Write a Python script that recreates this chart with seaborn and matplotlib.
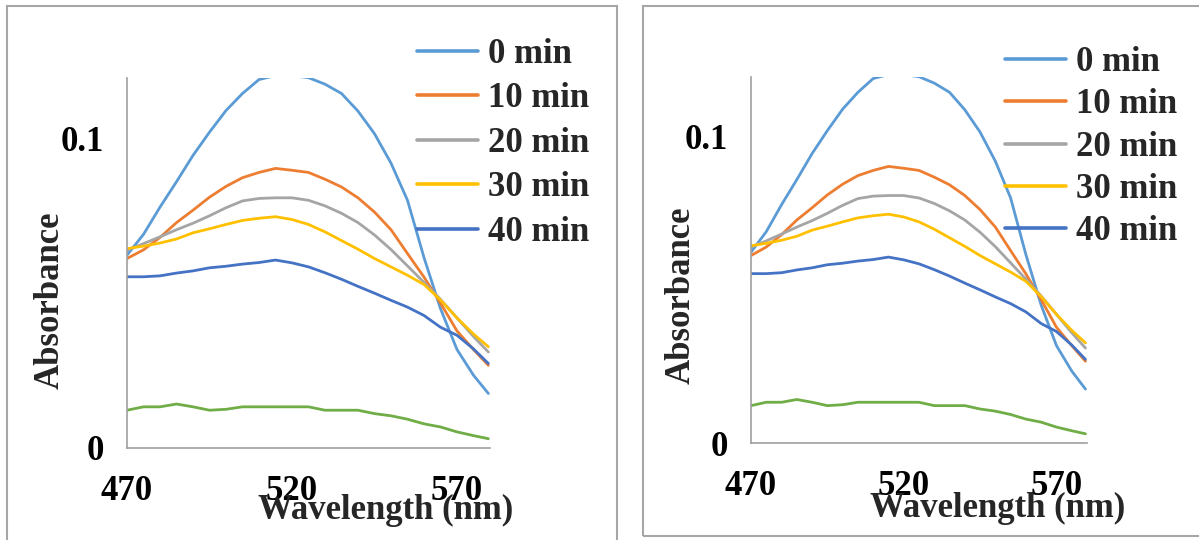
import pandas as pd
import matplotlib
matplotlib.use('Agg')
import matplotlib.pyplot as plt
import seaborn as sns
from matplotlib.patches import Rectangle

# ========================================
# Data
# ========================================
wavelength = [470, 475, 480, 485, 490, 495, 500, 505, 510, 515, 520, 525,
              530, 535, 540, 545, 550, 555, 560, 565, 570, 575, 579.5]

abs_0min = [0.0623, 0.0690, 0.0778, 0.0860, 0.0945, 0.1020, 0.1090, 0.1145,
            0.1190, 0.1203, 0.1203, 0.1196, 0.1175, 0.1145, 0.1088, 0.1015,
            0.0920, 0.0800, 0.0615, 0.0450, 0.0318, 0.0235, 0.0176]
abs_10min = [0.0612, 0.0640, 0.0680, 0.0728, 0.0768, 0.0810, 0.0845, 0.0873,
             0.0890, 0.0903, 0.0897, 0.0890, 0.0868, 0.0843, 0.0808, 0.0762,
             0.0705, 0.0628, 0.0552, 0.0468, 0.0378, 0.0318, 0.0267]
abs_20min = [0.0639, 0.0660, 0.0682, 0.0705, 0.0726, 0.0750, 0.0776, 0.0798,
             0.0806, 0.0808, 0.0808, 0.0800, 0.0782, 0.0758, 0.0728, 0.0688,
             0.0641, 0.0588, 0.0535, 0.0480, 0.0420, 0.0360, 0.0310]
abs_30min = [0.0644, 0.0652, 0.0662, 0.0675, 0.0695, 0.0708, 0.0722, 0.0735,
             0.0742, 0.0747, 0.0738, 0.0722, 0.0698, 0.0670, 0.0642, 0.0612,
             0.0585, 0.0558, 0.0528, 0.0478, 0.0420, 0.0368, 0.0327]
abs_40min = [0.0553, 0.0553, 0.0556, 0.0565, 0.0572, 0.0582, 0.0587, 0.0594,
             0.0599, 0.0607, 0.0598, 0.0585, 0.0566, 0.0545, 0.0522, 0.0500,
             0.0477, 0.0455, 0.0428, 0.0390, 0.0364, 0.0320, 0.0273]
abs_extra = [0.0122, 0.0133, 0.0133, 0.0142, 0.0133, 0.0122, 0.0125, 0.0133,
             0.0133, 0.0133, 0.0133, 0.0133, 0.0122, 0.0122, 0.0122, 0.0111,
             0.0104, 0.0093, 0.0078, 0.0068, 0.0052, 0.0040, 0.0030]

series_labels = ['0 min', '10 min', '20 min', '30 min', '40 min', '_nolegend_']
series_values = [abs_0min, abs_10min, abs_20min, abs_30min, abs_40min, abs_extra]
series_colors = ['#5B9BD5', '#ED7D31', '#A5A5A5', '#FFC000', '#4472C4', '#70AD47']

x_ticks = [470, 520, 570]
y_ticks = [0, 0.1]
y_tick_labels = ['0', '0.1']

# ========================================
# Style
# ========================================
sns.set_theme(style='white')
plt.rcParams['font.family'] = ['Liberation Serif', 'DejaVu Serif']
plt.rcParams['font.weight'] = 'bold'

FONT_SIZE = 25
AXIS_GREY = '#A0A0A0'
BOX_GREY = '#A6A6A6'


def draw_panel(ax, legend_anchor, legend_spacing, xlabel_pos, ylabel_pos):
    for label, values, color in zip(series_labels, series_values, series_colors):
        sns.lineplot(x=wavelength, y=values, color=color, linewidth=2.0,
                     label=label, ax=ax)

    ax.set_xlim(470, 580)
    ax.set_ylim(0, 0.1195)
    ax.set_xticks(x_ticks)
    ax.set_xticklabels([str(t) for t in x_ticks])
    ax.set_yticks(y_ticks)
    ax.set_yticklabels(y_tick_labels)

    for side in ['top', 'right']:
        ax.spines[side].set_visible(False)
    for side in ['left', 'bottom']:
        ax.spines[side].set_color(AXIS_GREY)
        ax.spines[side].set_linewidth(1.2)

    ax.tick_params(axis='both', direction='out', length=9.5, width=1.2,
                   color=AXIS_GREY, labelsize=FONT_SIZE, labelcolor='black')
    ax.tick_params(axis='x', pad=10)
    ax.tick_params(axis='y', pad=7)
    for lbl in ax.get_xticklabels() + ax.get_yticklabels():
        lbl.set_fontweight('bold')

    ax.set_xlabel('Wavelength (nm)', fontsize=FONT_SIZE, fontweight='bold')
    ax.set_ylabel('Absorbance', fontsize=FONT_SIZE, fontweight='bold')
    ax.xaxis.set_label_coords(*xlabel_pos)
    ax.yaxis.set_label_coords(*ylabel_pos)

    ax.legend(loc='upper left', bbox_to_anchor=legend_anchor,
              bbox_transform=ax.figure.transFigure, frameon=False,
              prop={'size': FONT_SIZE, 'weight': 'bold'},
              handlelength=1.75, handletextpad=0.3, labelspacing=legend_spacing,
              borderpad=0, borderaxespad=0)
    for line in ax.get_legend().get_lines():
        line.set_linewidth(2.6)


fig = plt.figure(figsize=(11.99, 5.4), dpi=100)

# рамки вокруг двух графиков
fig.patches.append(Rectangle((7 / 1199, -0.05), 610 / 1199, 1.05 - 6 / 540,
                             transform=fig.transFigure, fill=False,
                             edgecolor=BOX_GREY, linewidth=1.5))
fig.patches.append(Rectangle((643 / 1199, 1 - 536 / 540), 0.5, 530 / 540,
                             transform=fig.transFigure, fill=False,
                             edgecolor=BOX_GREY, linewidth=1.5))

ax_left = fig.add_axes([127 / 1199, 1 - 448 / 540, 363 / 1199, 370 / 540])
ax_right = fig.add_axes([751 / 1199, 1 - 443 / 540, 336 / 1199, 366 / 540])

draw_panel(ax_left, (417 / 1199, 1 - 38 / 540), 0.33, (0.713, -0.125), (-0.165, 0.40))
draw_panel(ax_right, (1005 / 1199, 1 - 46 / 540), 0.27, (0.735, -0.135), (-0.158, 0.404))

fig.savefig('out.png', dpi=100)
